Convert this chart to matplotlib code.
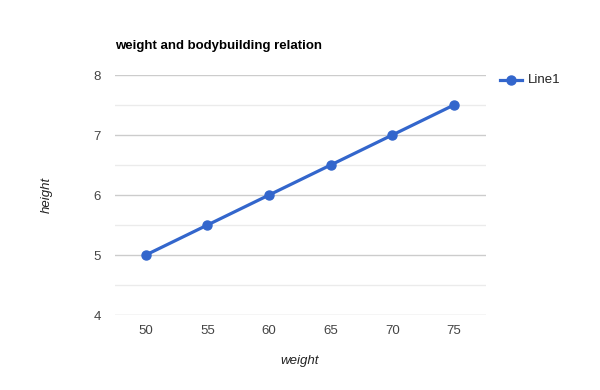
import matplotlib.pyplot as plt
from matplotlib.lines import Line2D

# datos
peso = [50, 55, 60, 65, 70, 75]
altura = [5.0, 5.5, 6.0, 6.5, 7.0, 7.5]
ticks_x = [50, 55, 60, 65, 70, 75]
ticks_y = [4, 5, 6, 7, 8]
ticks_y_menor = [4.5, 5.5, 6.5, 7.5]

color = "#3366cc"
plt.rcParams['font.family'] = ['Arial', 'Liberation Sans', 'DejaVu Sans']

fig = plt.figure(figsize=(6, 3.9), dpi=100)
ax = fig.add_axes([115/600, 1 - 315/390, (486 - 115)/600, (315 - 75)/390])

for y in ticks_y:
    ax.axhline(y, color="#cccccc", lw=1, zorder=1)
for y in ticks_y_menor:
    ax.axhline(y, color="#ebebeb", lw=1, zorder=1)

ax.plot(peso, altura, color=color, lw=2.3, marker="o", markersize=6.5, zorder=3)

ax.set_xlim(47.5, 77.6)
ax.set_ylim(4, 8)
ax.set_xticks(ticks_x)
ax.set_yticks(ticks_y)
ax.tick_params(length=0, labelsize=9.5, labelcolor="#444444")
ax.tick_params(axis="x", pad=7)
ax.tick_params(axis="y", pad=10)
for s in ax.spines.values():
    s.set_visible(False)

fig.text(115/600, 1 - 46/390, "weight and bodybuilding relation", fontsize=9.5,
         fontweight="bold", color="#000000", va="center", ha="left")
fig.text(300/600, 1 - 361/390, "weight", fontsize=9.5, style="italic",
         color="#222222", ha="center", va="center")
fig.text(47/600, 1 - 195/390, "height", fontsize=9.5, style="italic",
         color="#222222", ha="center", va="center", rotation=90)

# leyenda
yl = 1 - 80/390
fig.add_artist(Line2D([500/600, 522/600], [yl, yl], color=color, lw=2.3,
                      transform=fig.transFigure))
fig.add_artist(Line2D([511/600], [yl], color=color, marker="o", markersize=6.5,
                      transform=fig.transFigure))
fig.text(528/600, yl, "Line1", fontsize=9.5, color="#222222", va="center", ha="left")

fig.savefig("out.png", dpi=100)
